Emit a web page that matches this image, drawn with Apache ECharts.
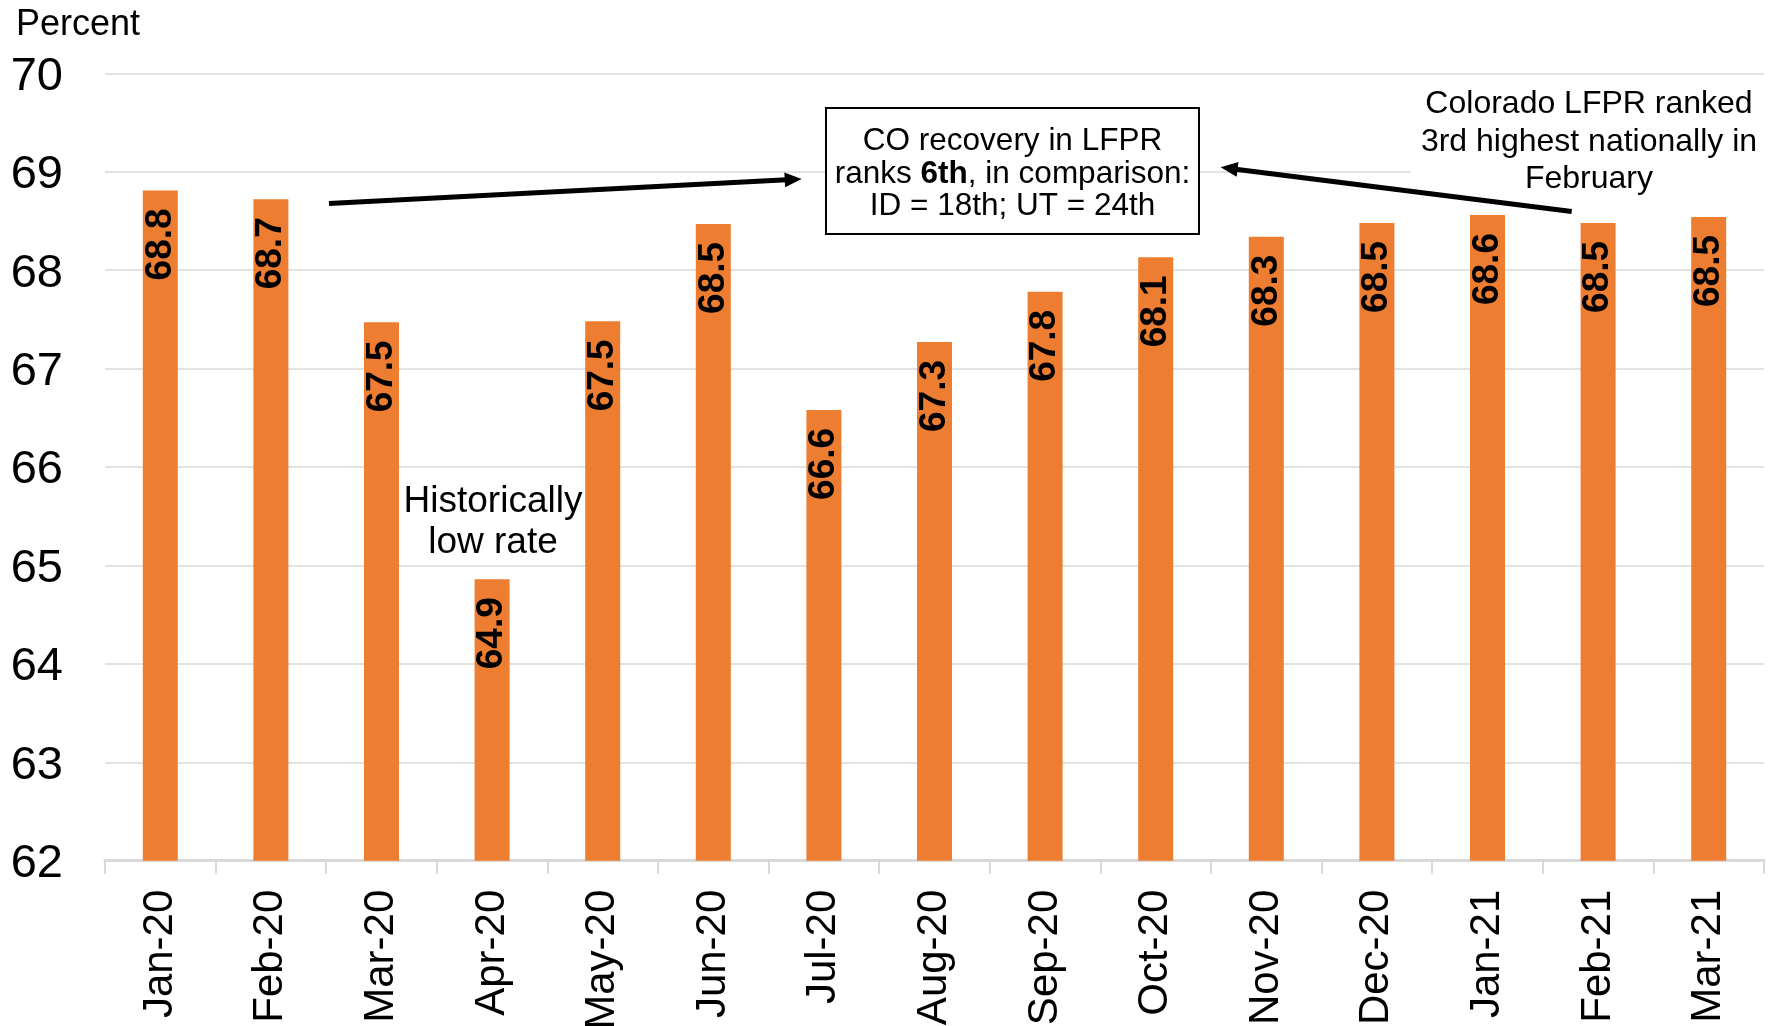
<!DOCTYPE html>
<html>
<head>
<meta charset="utf-8">
<script src="https://cdn.jsdelivr.net/npm/echarts@6/dist/echarts.min.js"></script>
<style>
html,body{margin:0;padding:0;background:#fff;}
#chart{width:1774px;height:1026px;}
</style>
</head>
<body>
<div id="chart"></div>
<script>
const categories = ['Jan-20','Feb-20','Mar-20','Apr-20','May-20','Jun-20','Jul-20','Aug-20','Sep-20','Oct-20','Nov-20','Dec-20','Jan-21','Feb-21','Mar-21'];
const lfpr = [68.81, 68.72, 67.47, 64.86, 67.48, 68.47, 66.58, 67.27, 67.78, 68.13, 68.34, 68.48, 68.56, 68.48, 68.54];
const yMin = 62, yMax = 70, yStep = 1;
const yAxisTitle = 'Percent';
const noteBox = ['CO recovery in LFPR', 'ranks ', '6th', ', in comparison:', 'ID = 18th; UT = 24th'];
const noteRight = ['Colorado LFPR ranked', '3rd highest nationally in', 'February'];
const noteLow = ['Historically', 'low rate'];

const FONT = '"Liberation Sans", Arial, sans-serif';

function arrow(x1, y1, x2, y2, headLen, headW, lw) {
  const dx = x2 - x1, dy = y2 - y1;
  const L = Math.sqrt(dx*dx + dy*dy);
  const ux = dx / L, uy = dy / L;
  const bx = x2 - ux*headLen, by = y2 - uy*headLen;
  const px = -uy, py = ux;
  return [
    { type: 'line', z: 100, shape: { x1: x1, y1: y1, x2: bx + ux*2, y2: by + uy*2 },
      style: { stroke: '#000', lineWidth: lw } },
    { type: 'polygon', z: 100, shape: { points: [[x2, y2], [bx + px*headW/2, by + py*headW/2], [bx - px*headW/2, by - py*headW/2]] },
      style: { fill: '#000' } }
  ];
}

const chart = echarts.init(document.getElementById('chart'), null, { renderer: 'canvas' });

const option = {
  backgroundColor: '#fff',
  animation: false,
  grid: { left: 105, right: 10, top: 73.3, bottom: 165.3, containLabel: false, outerBoundsMode: 'none' },
  xAxis: {
    type: 'category',
    data: categories,
    boundaryGap: true,
    axisLine: { show: true, lineStyle: { color: '#d9d9d9', width: 3 } },
    axisTick: { show: true, alignWithLabel: false, length: 13, lineStyle: { color: '#d9d9d9', width: 2 } },
    axisLabel: { rotate: 90, fontSize: 42, fontFamily: FONT, color: '#000', margin: 29, interval: 0 },
    splitLine: { show: false }
  },
  yAxis: {
    type: 'value',
    min: yMin, max: yMax, interval: yStep,
    axisLine: { show: false },
    axisTick: { show: false },
    axisLabel: {
      margin: 42,
      formatter: '{t|{value}}',
      rich: { t: { fontSize: 47, fontFamily: FONT, color: '#000', padding: [7, 0, 0, 0] } }
    },
    splitLine: { show: true, lineStyle: { color: '#d9d9d9', width: 1.5 } }
  },
  series: [{
    type: 'bar',
    data: lfpr,
    barWidth: 35,
    itemStyle: { color: '#ED7D31' },
    label: {
      show: true,
      position: 'insideTop',
      distance: 18,
      rotate: 90,
      align: 'right',
      verticalAlign: 'middle',
      fontSize: 37,
      fontWeight: 'bold',
      fontFamily: FONT,
      color: '#000',
      formatter: function (p) { return p.value.toFixed(1); }
    }
  }],
  graphic: [
    { type: 'text', left: 16, top: 7, style: { text: yAxisTitle, font: '36px ' + FONT, fill: '#000' } },
    // CO recovery box
    { type: 'rect', z: 90, shape: { x: 826, y: 108, width: 373, height: 126 },
      style: { fill: '#fff', stroke: '#000', lineWidth: 2 } },
    { type: 'text', z: 95, x: 1012.5, y: 174,
      style: {
        text: '{n|' + noteBox[0] + '}\n{n|' + noteBox[1] + '}{b|' + noteBox[2] + '}{n|' + noteBox[3] + '}\n{n|' + noteBox[4] + '}',
        align: 'center', verticalAlign: 'middle',
        rich: {
          n: { fontSize: 31.5, fontFamily: FONT, color: '#000', lineHeight: 32.5 },
          b: { fontSize: 31.5, fontFamily: FONT, fontWeight: 'bold', color: '#000', lineHeight: 32.5 }
        }
      } },
    // Colorado note with white background
    { type: 'rect', z: 90, shape: { x: 1411, y: 82, width: 363, height: 122 },
      style: { fill: '#fff' } },
    { type: 'text', z: 95, x: 1589, y: 142,
      style: {
        text: noteRight.join('\n'),
        align: 'center', verticalAlign: 'middle',
        font: '32px ' + FONT, lineHeight: 37.5, fill: '#000'
      } },
    // Historically low rate
    { type: 'text', z: 95, x: 493, y: 522,
      style: {
        text: noteLow.join('\n'),
        align: 'center', verticalAlign: 'middle',
        font: '37px ' + FONT, lineHeight: 41, fill: '#000'
      } }
  ].concat(arrow(329, 203.5, 801.7, 179, 17, 15, 5))
   .concat(arrow(1571.7, 211.5, 1220.7, 167.3, 17, 15, 5))
};

chart.setOption(option);
</script>
</body>
</html>
